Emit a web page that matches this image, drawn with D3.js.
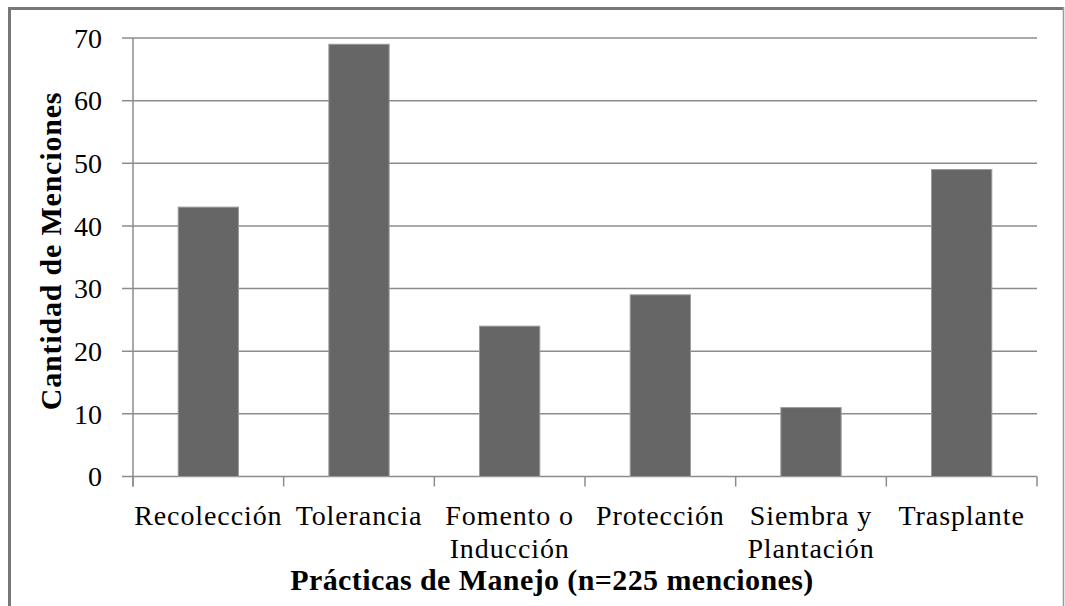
<!DOCTYPE html>
<html>
<head>
<meta charset="utf-8">
<script src="https://cdn.jsdelivr.net/npm/d3@7"></script>
<style>
  html, body { margin: 0; padding: 0; background: #fff; }
  svg { display: block; }
</style>
</head>
<body>
<svg id="chart" width="1065" height="606"></svg>
<script>
// Management practices and number of mentions (n = 225)
const categories = [
  ["Recolección"],
  ["Tolerancia"],
  ["Fomento o", "Inducción"],
  ["Protección"],
  ["Siembra y", "Plantación"],
  ["Trasplante"]
];
const mentions = [43, 69, 24, 29, 11, 49];
const yTicks = [0, 10, 20, 30, 40, 50, 60, 70];
const yTitle = "Cantidad de Menciones";
const xTitle = "Prácticas de Manejo (n=225 menciones)";

const FONT = '"Liberation Serif", "Times New Roman", serif';
const svg = d3.select("#chart");
const W = 1065, H = 606;
const plot = { left: 133, right: 1037, top: 38, bottom: 476.5 };

// Outer frame
svg.append("line").attr("x1", 9).attr("x2", 1064).attr("y1", 8.5).attr("y2", 8.5)
  .attr("stroke", "#777").attr("stroke-width", 3);
svg.append("line").attr("x1", 9.5).attr("x2", 9.5).attr("y1", 7).attr("y2", H)
  .attr("stroke", "#777").attr("stroke-width", 3);
svg.append("line").attr("x1", 1063.5).attr("x2", 1063.5).attr("y1", 7).attr("y2", H)
  .attr("stroke", "#999").attr("stroke-width", 1.5);

const labels = categories.map(c => c.join(" "));
const x = d3.scaleBand().domain(labels).range([plot.left, plot.right]).paddingInner(0.6).paddingOuter(0.3);
const xOuter = d3.scaleBand().domain(labels).range([plot.left, plot.right]);
const y = d3.scaleLinear().domain([0, 70]).range([plot.bottom, plot.top]);

// Horizontal gridlines with left tick stubs
svg.append("g").selectAll("line").data(yTicks).join("line")
  .attr("x1", plot.left - 11).attr("x2", plot.right)
  .attr("y1", d => y(d)).attr("y2", d => y(d))
  .attr("stroke", "#8c8c8c").attr("stroke-width", 1.5);

// Y tick labels
svg.append("g").selectAll("text").data(yTicks).join("text")
  .style("font-family", FONT)
  .attr("x", 102).attr("y", d => y(d)).attr("dy", "0.35em")
  .attr("text-anchor", "end").attr("font-size", 28)
  .text(d => d);

// Bars
svg.append("g").selectAll("rect").data(mentions).join("rect")
  .attr("x", (d, i) => x(labels[i]))
  .attr("width", x.bandwidth())
  .attr("y", d => y(d))
  .attr("height", d => y(0) - y(d))
  .attr("fill", "#666666")
  .attr("stroke", "#9a9a9a").attr("stroke-width", 1);

// Axis lines and category ticks
svg.append("line").attr("x1", plot.left).attr("x2", plot.left)
  .attr("y1", plot.top).attr("y2", plot.bottom + 10)
  .attr("stroke", "#8c8c8c").attr("stroke-width", 1.5);
const xTickPos = labels.map(l => xOuter(l)).concat([plot.right]);
svg.append("g").selectAll("line").data(xTickPos).join("line")
  .attr("x1", d => d).attr("x2", d => d)
  .attr("y1", plot.bottom).attr("y2", plot.bottom + 10)
  .attr("stroke", "#8c8c8c").attr("stroke-width", 1.5);

// Category labels (some wrap over two lines)
const catG = svg.append("g").selectAll("text").data(categories).join("text")
  .style("font-family", FONT)
  .attr("text-anchor", "middle").attr("font-size", 28).attr("letter-spacing", 0.9)
  .attr("x", (d, i) => xOuter(labels[i]) + xOuter.bandwidth() / 2)
  .attr("y", 525);
catG.selectAll("tspan").data(d => d).join("tspan")
  .attr("x", function() { return d3.select(this.parentNode).attr("x"); })
  .attr("dy", (d, j) => j === 0 ? 0 : 33)
  .text(d => d);

// Axis titles
svg.append("text")
  .style("font-family", FONT)
  .attr("transform", "translate(61,251) rotate(-90)")
  .attr("text-anchor", "middle").attr("font-size", 30).attr("font-weight", "bold")
  .attr("letter-spacing", 0.8)
  .text(yTitle);

svg.append("text")
  .style("font-family", FONT)
  .attr("x", 552).attr("y", 590)
  .attr("text-anchor", "middle").attr("font-size", 30).attr("font-weight", "bold")
  .attr("letter-spacing", 0.4)
  .text(xTitle);
</script>
</body>
</html>
